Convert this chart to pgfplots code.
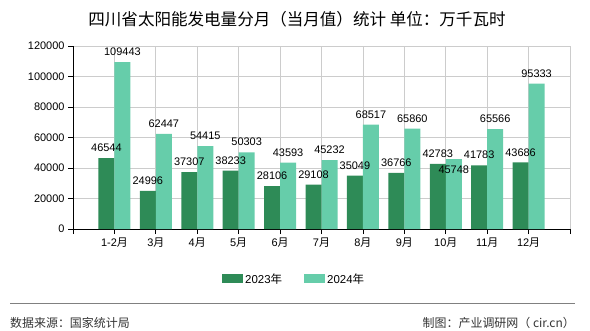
\documentclass[border=0pt]{standalone}
\usepackage{fontspec}
\setmainfont{Liberation Sans}
\newfontfamily\cjk{Noto Sans CJK SC}
\usepackage{pgfplots}
\pgfplotsset{compat=1.18}
\usepackage{pgfplotstable}
\definecolor{c23}{HTML}{2E8B57}
\definecolor{c24}{HTML}{66CDAA}
\definecolor{gridc}{HTML}{CCCCCC}
\definecolor{foot}{HTML}{333333}

\pgfplotstableread{
x y23 y24 d24
1 46544 109443 0
2 24996 62447 0
3 37307 54415 0
4 38233 50303 0
5 28106 43593 0
6 29108 45232 0
7 35049 68517 0
8 36766 65860 0
9 42783 45748 -21
10 41783 65566 0
11 43686 95333 0
}\data

\begin{document}
\begin{tikzpicture}[x=1bp,y=1bp]
\path (0,0) rectangle (590,330);
\node[font=\cjk\fontsize{16.6}{18}\selectfont] at (297,311) {四川省太阳能发电量分月（当月值）统计 单位：万千瓦时};
\begin{axis}[
  at={(73bp,101bp)}, anchor=south west,
  width=497bp, height=183bp, scale only axis,
  xmin=0, xmax=12, ymin=0, ymax=120000,
  xtick={0,...,12},
  xticklabels={,1-2{\cjk 月},3{\cjk 月},4{\cjk 月},5{\cjk 月},6{\cjk 月},7{\cjk 月},8{\cjk 月},9{\cjk 月},10{\cjk 月},11{\cjk 月},12{\cjk 月},},
  ytick={0,20000,...,120000},
  scaled y ticks=false,
  /pgf/number format/.cd, fixed, precision=0, 1000 sep={}, assume math mode=true, /pgfplots/.cd,
  axis x line*=bottom, axis y line*=left,
  axis line style={black, line width=0.8bp, -},
  grid=major, major grid style={gridc, line width=0.8bp},
  tick align=outside, major tick length=5bp,
  tick style={black, line width=0.8bp},
  ticklabel style={font=\fontsize{11}{13}\selectfont},
  ybar=0pt, bar width=16bp,
  nodes near coords={\pgfmathprintnumber[fixed,precision=0,1000 sep={}]{\pgfplotspointmeta}},
  every node near coord/.append style={font=\fontsize{11}{13}\selectfont, black, anchor=south, inner sep=1bp, yshift=5bp},
  legend style={at={(0.445,-0.273)}, anchor=center, draw=none, fill=none,
    font=\fontsize{11.5}{13}\selectfont, legend columns=2,
    /tikz/every even column/.append style={column sep=20bp}},
  legend image code/.code={\fill[#1] (0bp,-4.5bp) rectangle (21bp,4.5bp);},
  clip=false,
]
\addplot[fill=c23, draw=none, bar shift=-8bp] table[x=x,y=y23]{\data};
\addplot[fill=c24, draw=none, bar shift=8bp,
  visualization depends on={\thisrow{d24}\as\dd},
  every node near coord/.append style={yshift=\dd bp}] table[x=x,y=y24]{\data};
\legend{2023{\cjk 年},2024{\cjk 年}}
\end{axis}
\draw[color=gray, line width=1bp] (10,27) -- (575,27);
\node[anchor=west, text=foot, inner sep=0pt, font=\cjk\fontsize{12}{14}\selectfont] at (10,7) {数据来源：国家统计局};
\node[anchor=east, text=foot, inner sep=0pt, font=\cjk\fontsize{12}{14}\selectfont] at (575,7) {制图：产业调研网（ cir.cn）};
\end{tikzpicture}
\end{document}
